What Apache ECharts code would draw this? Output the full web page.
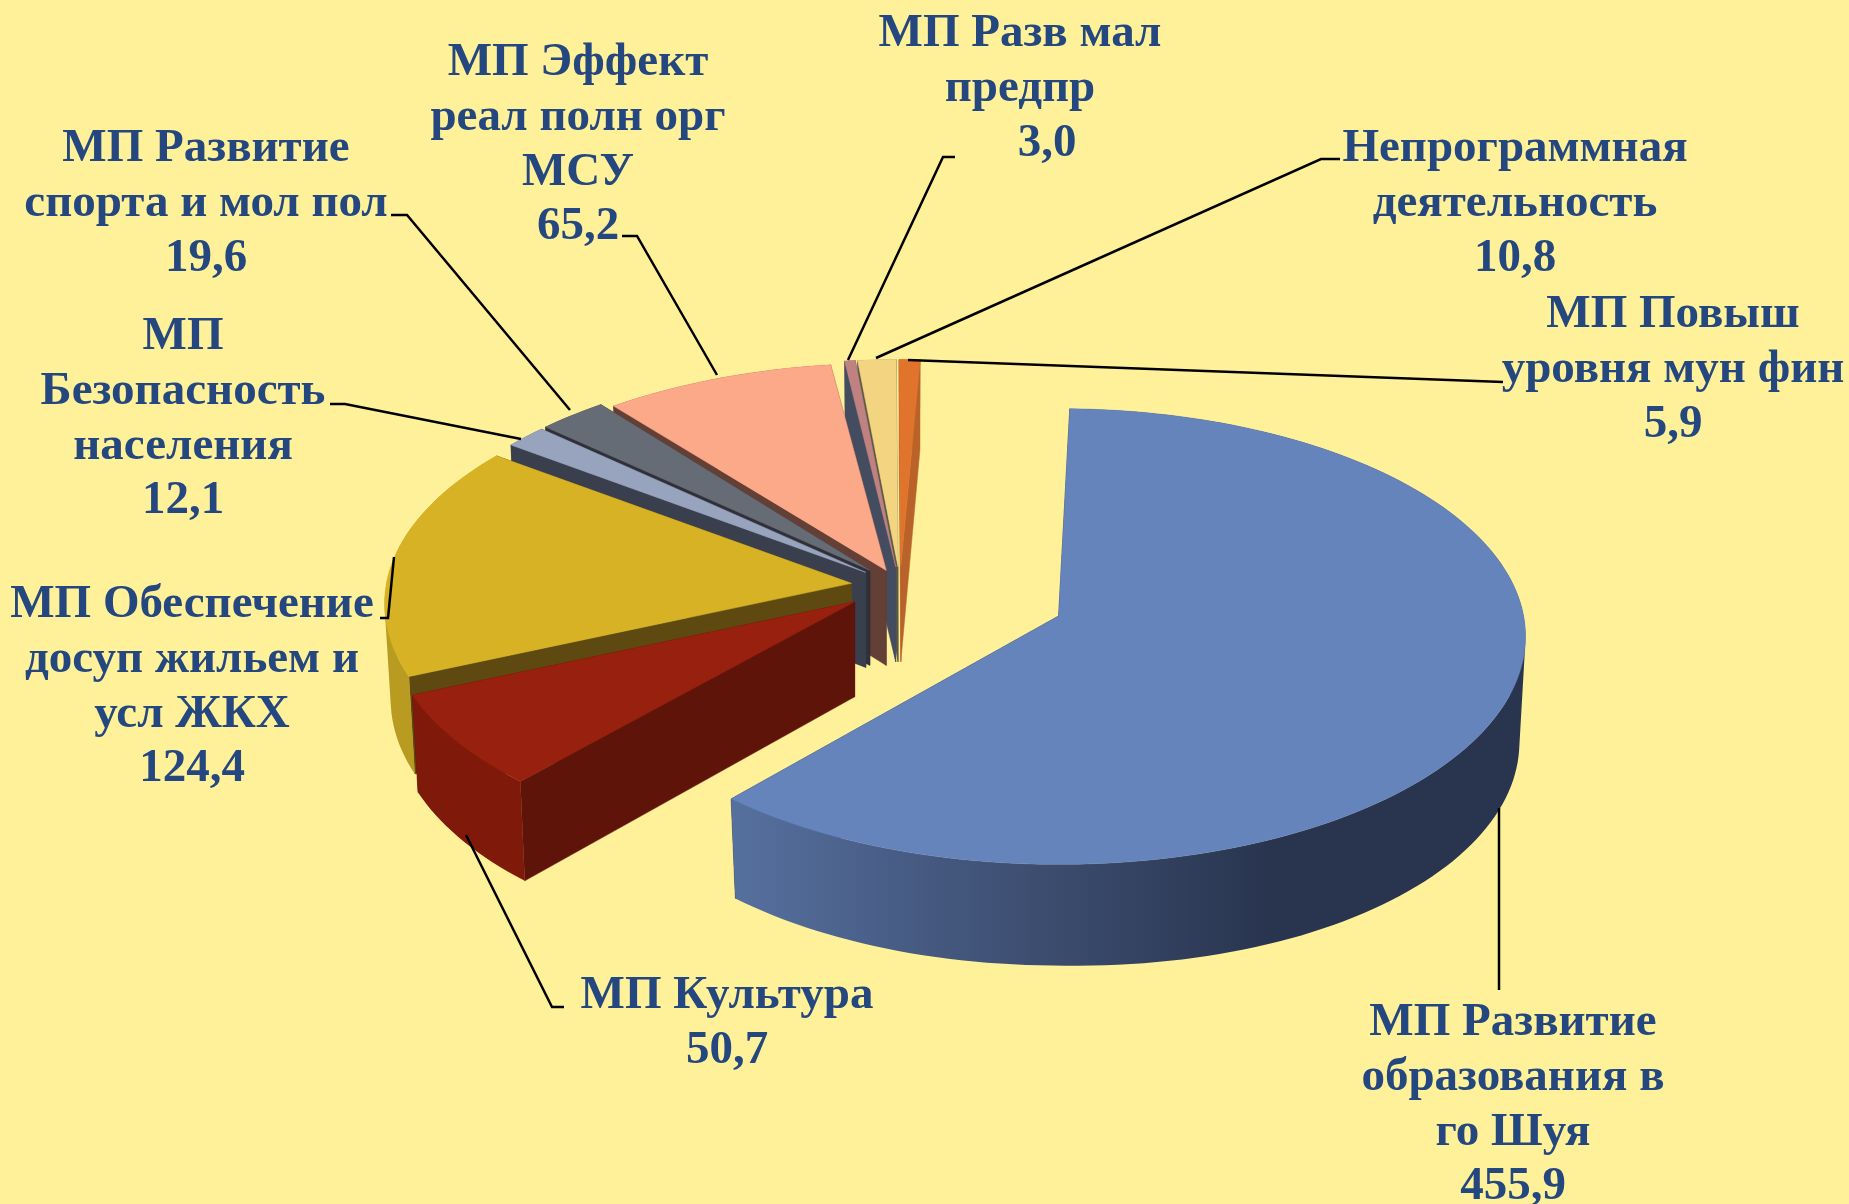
<!DOCTYPE html>
<html>
<head>
<meta charset="utf-8">
<title>Расходы</title>
<script src="https://cdn.jsdelivr.net/npm/echarts@6/dist/echarts.min.js"></script>
<style>
html, body { margin: 0; padding: 0; background: #fff199; }
#pieChart { width: 1849px; height: 1204px; }
</style>
</head>
<body>
<div id="pieChart"></div>
<script>
// данные
const categories = [
  'МП Развитие\nобразования в\nго Шуя',
  'МП Культура',
  'МП Обеспечение\nдосуп жильем и\nусл ЖКХ',
  'МП\nБезопасность\nнаселения',
  'МП Развитие\nспорта и мол пол',
  'МП Эффект\nреал полн орг\nМСУ',
  'МП Разв мал\nпредпр',
  'Непрограммная\nдеятельность',
  'МП Повыш\nуровня мун фин'
]
const values = [455.9, 50.7, 124.4, 12.1, 19.6, 65.2, 3.0, 10.8, 5.9]

// цвета: верх, срез, внешняя стенка
const topColors = ['#6584bc', '#97200f', '#d6b224', '#98a3bd', '#666c75', '#fca98a', '#c08280', '#f3d481', '#e0742c']
const cutColors = ['#29354f', '#5f140a', '#5e4a10', '#3a3f4e', '#2f3038', '#643f36', '#444c60', '#5c5a40', '#b9622a']
const wallColors = ['#29354f', '#7f1a0a', '#b89b20', '#3a3f4e', '#2f3038', '#643f36', '#444c60', '#5c5a40', '#b9622a']
// порядок отрисовки, от дальних к ближним
const drawOrder = [8, 7, 6, 5, 4, 3, 2, 1, 0]
const explode = [0.366, 0.12, 0.105, 0.095, 0.095, 0.075, 0.085, 0.085, 0.085]
// поправка поворота сектора (перспектива)
const tilt = [-1.1, 0, 0, 0, 0, -0.6, 0, 0, 0]

// геометрия псевдо-3D круга
const pie = { cx: 900, cy: 586, r: 465, ry: 226, persp: 0.09, depth: 95, depthRight: 0.105, shrink: 0.987, startAngle: 2.6 }

// подписи: центр текста, сдвиг значения и линия-выноска
const lineH = 54.8
const labelPos = [
  { x: 1513, y: 1105, line: [[1499, 990], [1499, 808]] },
  { x: 727, y: 1023, line: [[564, 1007], [552, 1007], [466, 835]] },
  { x: 192, y: 687, line: [[380, 618], [388, 618], [394, 557]] },
  { x: 183, y: 419, line: [[330, 404], [345, 404], [521, 439]] },
  { x: 206, y: 204, line: [[391, 215], [407, 215], [570, 410]] },
  { x: 578, y: 145, line: [[622, 236], [637, 236], [717, 375]] },
  { x: 1020, y: 89, valueDx: 27, line: [[955, 157], [943, 157], [848, 360]] },
  { x: 1515, y: 204, line: [[1340, 159], [1321, 159], [876, 358]] },
  { x: 1673, y: 370, line: [[1503, 382], [908, 360]] }
]

const total = values.reduce((a, b) => a + b, 0)
const rad = d => d * Math.PI / 180

function sliceAngles(idx) {
  let from = pie.startAngle
  for (let i = 0; i < idx; i++) from += values[i] / total * 360
  return [from + tilt[idx], from + tilt[idx] + values[idx] / total * 360]
}

function sliceApex(idx) {
  const [a0, a1] = sliceAngles(idx)
  const mid = rad((a0 + a1) / 2)
  return [
    pie.cx + explode[idx] * pie.r * Math.sin(mid),
    pie.cy - explode[idx] * pie.ry * Math.cos(mid)
  ]
}

// точка на ободе сектора, bottom - нижняя кромка
function rimPoint(apex, deg, bottom) {
  const u = Math.sin(rad(deg))
  const v = Math.cos(rad(deg))
  const s = 1 / (1 + pie.persp * v)
  const b = bottom ? pie.shrink : 1
  const d = pie.depth * (s + pie.depthRight * Math.max(u, 0))
  return [
    apex[0] + pie.r * u * s * b,
    apex[1] - pie.ry * v * s * b + (bottom ? d : 0)
  ]
}

function arcPoints(apex, a0, a1, bottom) {
  const pts = []
  const n = Math.max(2, Math.ceil((a1 - a0) / 1.5))
  for (let i = 0; i <= n; i++) pts.push(rimPoint(apex, a0 + (a1 - a0) * i / n, bottom))
  return pts
}

// стенка одним контуром из полосок, иначе видны швы
function wallPath(topArc, bottomArc) {
  let path = ''
  for (let i = 0; i < topArc.length - 1; i++) {
    let q = [topArc[i], topArc[i + 1], bottomArc[i + 1], bottomArc[i]]
    let area = 0
    for (let k = 0; k < 4; k++) {
      const a = q[k]
      const b = q[(k + 1) % 4]
      area += a[0] * b[1] - b[0] * a[1]
    }
    if (area < 0) q = q.reverse()
    path += 'M' + q.map(p => p[0].toFixed(2) + ' ' + p[1].toFixed(2)).join('L') + 'Z'
  }
  return path
}

function renderSlice(params) {
  const idx = drawOrder[params.dataIndex]
  const [a0, a1] = sliceAngles(idx)
  const apex = sliceApex(idx)
  const apexBottom = [apex[0], apex[1] + pie.depth]
  const topArc = arcPoints(apex, a0, a1, false)
  const bottomArc = arcPoints(apex, a0, a1, true)
  let wallFill = wallColors[idx]
  if (idx === 0) {
    const xs = topArc.map(p => p[0])
    wallFill = new echarts.graphic.LinearGradient(Math.min(...xs), 0, Math.max(...xs), 0, [
      { offset: 0, color: '#56709f' },
      { offset: 0.34, color: '#3f5175' },
      { offset: 0.68, color: '#29354f' },
      { offset: 1, color: '#29354f' }
    ], true)
  }
  const poly = (points, fill) => ({
    type: 'polygon',
    shape: { points: points },
    style: { fill: fill, stroke: fill, lineWidth: 0.5 },
    silent: true
  })
  return {
    type: 'group',
    children: [
      poly([apex, topArc[0], bottomArc[0], apexBottom], cutColors[idx]),
      poly([apex, topArc[topArc.length - 1], bottomArc[bottomArc.length - 1], apexBottom], cutColors[idx]),
      {
        type: 'path',
        shape: { pathData: wallPath(topArc, bottomArc) },
        style: { fill: wallFill },
        silent: true
      },
      poly([apex].concat(topArc), topColors[idx])
    ]
  }
}

function renderLabel(params) {
  const i = params.dataIndex
  const pos = labelPos[i]
  const nameLines = categories[i].split('\n').length
  const text = (str, x, y) => ({
    type: 'text',
    style: {
      x: x,
      y: y,
      text: str,
      align: 'center',
      verticalAlign: 'middle',
      fill: '#24477f',
      font: 'bold 47px "Liberation Serif"',
      lineHeight: lineH
    },
    silent: true
  })
  return {
    type: 'group',
    children: [
      {
        type: 'polyline',
        shape: { points: pos.line },
        style: { fill: null, stroke: '#000', lineWidth: 2.5 },
        silent: true
      },
      text(categories[i], pos.x, pos.y - lineH / 2),
      text(values[i].toFixed(1).replace('.', ','), pos.x + (pos.valueDx || 0), pos.y + nameLines * lineH / 2)
    ]
  }
}

let myChart = echarts.init(document.getElementById('pieChart'))
myChart.setOption({
  backgroundColor: '#fff199',
  animation: false,
  series: [
    {
      type: 'custom',
      coordinateSystem: 'none',
      renderItem: renderSlice,
      data: drawOrder.map(i => values[i]),
      z: 2
    },
    {
      type: 'custom',
      coordinateSystem: 'none',
      renderItem: renderLabel,
      data: values,
      z: 3
    }
  ]
})
</script>
</body>
</html>
